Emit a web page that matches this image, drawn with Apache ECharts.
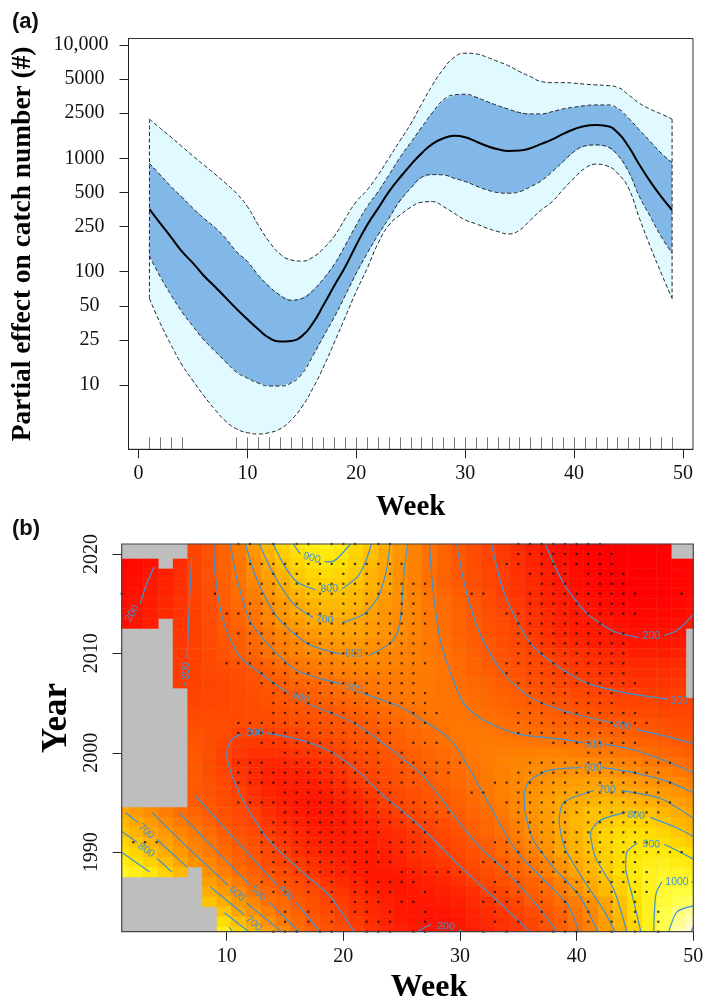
<!DOCTYPE html>
<html>
<head>
<meta charset="utf-8">
<title>Partial effects</title>
<style>
  html, body { margin: 0; padding: 0; background: #fff; }
  #main { width: 703px; height: 1002px; }
</style>
<script src="https://cdn.jsdelivr.net/npm/echarts@6/dist/echarts.min.js"></script>
</head>
<body>
<div id="main"></div>
<script>
// panel (a): partial effect by week
const weeks = [1,2,3,4,5,6,7,8,9,10,11,12,13,14,15,16,17,18,19,20,21,22,23,24,25,26,27,28,29,30,31,32,33,34,35,36,37,38,39,40,41,42,43,44,45,46,47,48,49];
const upperOuter = [2213,1841,1534,1268,1050,874,728,603,491,375,258,184,143,127,124,134,161,207,296,415,526,713,1007,1426,2012,3020,4446,6152,7800,8459,8337,7800,7145,6546,5821,5260,4753,4656,4656,4600,4510,4444,4388,4233,3628,3062,2710,2466,2213];
const upperInner = [903,713,562,453,362,296,246,197,150,123,93,74,62,56,58,68,87,117,172,258,375,508,713,1015,1380,1880,2535,3273,3628,3676,3459,3170,2917,2710,2535,2466,2466,2582,2729,2825,2917,2958,2958,2767,2259,1782,1406,1109,917];
const meanEffect = [357,267,201,150,119,92,74,59,47,38,31,26,24.2,24.5,27,35,51,76,111,172,258,362,508,675,876,1109,1340,1503,1578,1535,1406,1285,1202,1161,1170,1227,1340,1472,1642,1806,1932,1972,1932,1687,1270,876,623,459,350];
const lowerInner = [138,90,62,44,33,25,20,16,13,11.5,10.4,9.8,9.8,10.4,12.5,18,27,40,62,97,145,211,296,420,545,680,718,713,666,624,571,526,499,492,508,562,635,763,935,1146,1286,1312,1270,1072,763,459,306,204,145];
const lowerOuter = [58,35,22.5,15,10.9,8.05,6.1,4.8,4.1,3.8,3.7,3.8,4.1,4.9,6.4,9.3,14.5,24,40,67,107,178,258,315,370,409,415,375,327,286,264,242,226,215,233,286,351,415,533,667,817,887,858,738,545,296,166,97,58];
const rugWeeks = [1,2,3,4,9,10,11,12,13,14,15,16,17,18,19,20,21,22,23,24,25,26,27,28,29,30,31,32,33,34,35,36,37,38,39,40,41,42,43,44,45,46,47,48,49];
const xTicksA = [0,10,20,30,40,50];
const yTicksA = [10,25,50,100,250,500,1000,2500,5000,10000];

// panel (b): heat cells, one row per year from 2021 down to 1982, null = no colour
const n = null;
const cellWeeks = [1,2.26,3.51,4.77,6.03,7.28,8.54,9.79,11.05,12.31,13.56,14.82,16.08,17.33,18.59,19.85,21.1,22.36,23.62,24.87,26.13,27.38,28.64,29.9,31.15,32.41,33.67,34.92,36.18,37.44,38.69,39.95,41.21,42.46,43.72,44.97,46.23,47.49,48.74,50];
const cellYears = [2021,2020,2019,2018,2017,2016,2015,2014,2013,2012,2011,2010,2009,2008,2007,2006,2005,2004,2003,2002,2001,2000,1999,1998,1997,1996,1995,1994,1993,1992,1991,1990,1989,1988,1987,1986,1985,1984,1983,1982];
const heatRows = [
  [n,n,n,n,n,330,375,450,540,650,770,850,910,950,970,940,860,800,720,640,570,500,450,395,350,310,280,255,225,198,180,165,155,150,150,150,150,155,n,n],
  [n,n,n,n,n,320,370,445,525,630,745,830,885,925,935,910,850,785,710,635,565,498,450,397,350,312,285,258,228,203,183,168,158,150,150,150,150,155,n,n],
  [165,175,190,n,255,318,368,440,515,610,715,790,850,890,905,885,835,770,700,625,558,495,445,398,355,318,290,262,235,210,190,172,160,152,150,150,150,155,160,165],
  [170,180,195,225,260,315,370,435,510,590,680,750,815,860,875,860,815,745,690,610,550,490,440,400,360,325,295,265,240,220,200,180,165,155,150,150,150,155,160,165],
  [172,185,205,228,262,312,365,428,495,570,650,720,795,830,845,835,790,745,695,620,555,490,437,398,358,325,298,270,245,222,200,183,170,158,150,150,152,156,162,168],
  [175,190,208,232,265,310,360,425,490,550,625,690,745,790,795,795,770,725,665,620,565,515,465,415,380,340,298,272,248,228,212,190,175,163,155,152,150,152,160,170],
  [178,192,212,238,268,305,350,425,465,525,595,650,710,750,768,770,750,705,645,608,570,520,475,435,395,355,310,285,255,235,215,202,190,175,165,160,158,160,168,180],
  [180,195,218,245,272,305,350,410,455,510,580,640,700,725,740,745,725,680,630,598,570,530,480,440,400,365,330,296,265,245,222,207,197,185,175,170,168,170,178,195],
  [182,198,222,n,275,302,345,398,450,500,565,615,665,698,705,702,690,655,625,600,570,530,485,445,408,375,345,305,275,250,228,212,205,195,183,178,178,180,188,210],
  [n,n,n,n,278,300,340,390,430,475,530,570,610,650,675,685,680,655,625,600,565,525,488,445,415,380,350,325,285,260,235,222,210,205,198,190,188,190,196,n],
  [n,n,n,n,280,302,338,382,415,460,505,545,580,610,635,645,640,620,605,585,555,525,495,455,420,395,360,330,295,270,250,235,222,212,205,200,200,202,208,n],
  [n,n,n,n,283,305,335,375,412,450,503,535,565,590,598,603,607,600,585,562,545,520,503,465,430,405,375,350,325,295,278,265,252,240,232,225,222,222,228,n],
  [n,n,n,n,285,305,328,355,385,415,450,485,518,540,555,570,578,580,575,565,548,530,508,475,440,410,390,360,332,315,292,278,265,255,248,243,242,245,250,n],
  [n,n,n,n,288,305,320,338,355,380,412,445,490,515,530,545,550,555,555,548,535,525,510,480,448,425,395,370,345,325,305,290,280,270,262,258,258,260,268,n],
  [n,n,n,n,290,305,320,335,352,370,390,410,440,460,480,498,510,522,530,533,530,522,510,492,465,440,420,395,365,345,322,305,295,285,278,272,270,275,285,n],
  [n,n,n,n,n,310,320,330,345,358,375,392,412,432,455,475,495,510,520,525,525,518,508,500,478,455,435,415,390,370,350,335,322,312,302,296,292,290,295,n],
  [n,n,n,n,n,320,328,335,345,355,370,382,395,405,425,445,462,478,495,505,518,518,510,505,490,470,450,430,412,395,375,360,345,335,325,318,312,305,303,300],
  [n,n,n,n,n,335,340,340,343,350,358,365,375,385,395,408,428,450,470,490,503,515,515,510,503,490,470,455,440,425,410,395,380,368,355,345,335,328,322,318],
  [n,n,n,n,n,350,350,345,340,340,345,350,358,365,375,388,402,425,448,465,485,498,510,518,510,502,490,475,460,447,435,425,415,405,395,385,372,362,352,345],
  [n,n,n,n,n,365,355,340,310,300,300,310,325,340,355,368,382,397,420,440,460,480,502,520,525,520,503,490,482,475,465,458,452,440,430,418,405,388,375,365],
  [n,n,n,n,n,380,355,320,290,280,278,282,293,305,325,345,365,382,410,430,455,478,495,515,530,535,530,520,512,508,505,502,495,485,472,458,440,420,402,390],
  [n,n,n,n,n,390,360,310,280,265,260,262,270,278,296,310,335,355,385,408,430,455,478,500,520,535,545,552,555,555,550,540,530,525,515,500,485,465,445,425],
  [n,n,n,n,n,400,355,310,265,248,240,240,248,255,268,290,315,345,370,390,415,440,465,490,515,540,560,572,580,588,592,595,590,585,570,550,530,510,490,470],
  [n,n,n,n,n,405,360,320,275,250,228,220,225,235,250,270,295,325,350,375,400,425,450,478,505,535,560,580,595,605,615,625,632,630,620,600,575,555,530,510],
  [n,n,n,n,n,410,370,330,285,250,225,215,215,222,235,252,278,303,335,362,385,405,440,468,495,530,560,585,612,635,650,665,678,680,670,655,630,605,580,550],
  [n,n,n,n,n,405,375,345,302,262,235,215,208,208,218,235,255,280,308,340,368,392,420,450,485,525,555,590,625,650,680,690,705,712,705,695,680,655,630,600],
  [n,n,n,n,n,410,390,355,320,275,245,222,205,200,205,220,240,262,295,325,355,380,405,435,470,510,545,580,635,670,695,725,750,770,765,745,725,700,670,640],
  [710,655,605,545,495,445,405,365,335,295,258,230,212,200,200,210,228,252,275,302,330,360,390,415,455,485,525,580,625,665,700,745,790,795,795,802,790,760,725,695],
  [765,705,650,590,535,485,435,385,350,315,275,245,225,210,205,207,218,235,255,278,300,325,350,385,430,465,505,560,615,660,705,760,785,815,840,850,835,805,760,715],
  [800,745,690,640,580,525,475,415,375,335,290,260,238,222,212,208,212,225,238,258,278,302,330,375,425,455,495,545,605,650,700,750,800,845,875,885,880,850,810,770],
  [850,800,745,680,615,555,505,450,405,365,315,280,250,232,220,210,210,215,228,245,265,285,308,345,395,425,470,525,585,635,695,745,795,850,890,900,900,885,850,820],
  [900,850,790,720,650,575,525,470,425,385,335,295,260,240,225,215,210,210,220,240,265,275,295,330,370,405,465,500,560,615,685,740,790,840,885,905,925,925,905,880],
  [950,895,840,775,700,630,570,510,445,405,350,310,290,262,242,225,212,208,215,228,245,260,278,305,345,385,415,470,515,575,630,715,770,830,880,925,950,960,940,920],
  [995,950,915,850,765,n,605,545,480,430,385,345,305,275,250,230,215,205,205,212,225,238,255,285,325,360,395,450,495,555,620,690,755,815,880,930,970,990,985,965],
  [n,n,n,n,n,n,670,605,535,470,420,380,340,305,275,250,230,212,205,205,215,228,240,262,295,330,365,398,445,495,555,635,715,785,850,920,975,1005,1010,1005],
  [n,n,n,n,n,n,730,660,590,515,470,420,370,335,305,270,245,225,210,205,208,215,225,240,265,298,325,375,420,465,530,605,695,760,830,910,970,1020,1040,1045],
  [n,n,n,n,n,n,800,725,640,585,500,460,410,365,325,290,262,238,220,208,202,205,212,225,248,268,298,330,395,430,485,545,610,690,790,890,970,1030,1065,1085],
  [n,n,n,n,n,n,n,800,695,625,555,480,435,375,345,302,270,245,228,212,202,198,200,212,235,255,275,302,345,390,440,520,580,670,770,880,975,1055,1105,1135],
  [n,n,n,n,n,n,n,880,780,690,610,530,470,410,365,320,285,255,232,215,200,192,192,202,228,245,262,285,325,375,430,500,570,660,755,865,970,1060,1125,1170],
  [n,n,n,n,n,n,n,960,860,760,670,595,505,435,380,340,295,265,240,220,203,190,190,198,218,235,255,280,310,360,425,490,560,650,740,850,960,1070,1150,1210]
];

// observation dots: weeks per year, same order as cellYears
const dotWeeks = [
  [11,12,14,16,17,19,20,21,23,24,35,36,37,38,39,40,41,42],
  [35,36,37,38,39,40,41,42,43],
  [12,13,14,15,16,17,18,19,20,21,22,23,24,25,34,35,37,38,39,40,41,42,43],
  [14,16,18,20,22,24,36,37,38,39,41,42,43,44],
  [13,14,15,16,17,18,19,20,21,22,23,24,25,26,27,37,38,39,41,42,43,44],
  [1,9,13,14,16,17,18,19,20,21,22,23,24,25,26,27,31,32,36,37,38,39,40,41,42,43,44,45,49],
  [12,13,14,15,16,17,18,20,21,22,25,26,36,37,38,39,40,41,42,43,44],
  [10,11,12,13,14,15,16,17,18,19,20,21,22,23,24,25,26,27,34,35,36,37,38,39,40,41,42,43,44,45],
  [12,13,14,15,16,17,18,19,20,21,22,23,24,25,26,27,35,36,37,38,39,40,41,42],
  [11,12,13,14,15,16,17,18,19,20,21,22,23,24,25,26,35,36,37,38,39,40,41,42,43,44],
  [12,13,14,15,16,17,18,19,20,21,22,23,24,25,26,27,35,36,37,38,39,40,41,42,43,44],
  [12,13,14,15,16,17,18,19,20,21,22,23,24,25,26,35,36,37,38,39,40,41,42,43,44],
  [10,11,12,13,14,15,16,17,18,19,20,21,22,23,24,25,26,27,34,35,36,37,38,39,40,41,42,43,44],
  [13,14,15,16,17,18,19,20,21,22,23,24,25,26,34,36,37,38,39,40,41,42,43,44],
  [13,14,15,16,17,18,19,20,21,22,23,24,25,26,35,36,37,38,39,40,41,42,43,44,45],
  [14,15,16,17,18,19,20,21,22,23,24,25,26,27,36,37,38,39,41,42,43],
  [14,15,16,17,18,19,20,21,22,23,24,25,26,27,36,37,38,39,40,41,42,43],
  [14,15,16,17,18,19,20,21,22,23,24,26,27,28,35,36,37,39,40,41,42,43,44,45],
  [11,12,13,14,15,16,17,18,19,20,21,22,23,24,25,26,27,35,36,37,38,39,40,41,42,43,44,45,46],
  [11,12,13,14,15,16,17,18,19,20,21,22,23,24,35,36,37,38,39,40,41,42,43,44],
  [13,14,15,16,17,18,19,20,21,22,23,24,26,27,28,38,39,40,41,42,43,44,45],
  [15,16,17,18,19,20,21,22,23,25,41,42,43],
  [11,12,13,15,16,17,18,19,20,21,22,23,25,26,27,28,29,30,36,37,38,39,40,41,42,43,44,45,46,47,48],
  [11,12,13,14,15,16,17,18,19,20,21,22,23,25,26,27,28,29,35,36,37,38,39,40,41,42,43,44,45,46,47],
  [11,12,13,14,15,16,17,18,19,20,21,22,23,24,25,26,33,34,35,36,37,38,39,41,42,43,44,45,46,47,48],
  [15,16,17,18,19,20,21,22,23,24,31,32,35,36,37,38,39,40,41,42,43,44,45,46,47],
  [11,12,13,14,15,16,17,18,19,20,21,22,23,24,25,26,27,28,34,35,36,37,38,39,40,41,42,43,44,45,46,47,48],
  [15,16,17,18,19,20,21,22,23,24,25,26,27,28,29,35,36,37,38,39,40,41,42,43,44,45,46,47],
  [14,15,16,17,18,19,20,21,22,23,24,25,26,27,28,35,36,37,38,39,41,42,43,44,45,46],
  [13,14,15,16,17,18,19,20,21,22,23,26,27,35,36,37,38,39,40,41,42,43,44,45,46],
  [2,3,4,13,14,15,16,17,18,19,20,21,22,24,25,26,27,33,34,35,36,37,38,39,40,41,42,43,44,45,46],
  [13,14,15,16,17,18,19,20,21,22,23,24,25,26,27,34,35,36,37,38,39,40,41,42,43,44,45,46,47,48,49],
  [14,15,16,17,18,19,20,21,22,23,24,32,33,34,35,36,37,38,39,40,41,42,43,44,45],
  [14,15,16,17,18,19,20,21,22,25,26,27,28,29,30,34,35,36,37,38,39,41,42,43,44,45,46],
  [13,15,16,17,19,21,22,23,24,25,26,33,35,37,39,40,41,42,43,44,45,46],
  [14,15,17,19,21,22,23,24,27,33,34,35,37,39,40,41,43,45,46],
  [19,21,22,23,25,26,32,33,34,35,37,39,41,43,45],
  [15,17,19,21,22,24,27,33,37,39,41,43,45,47],
  [15,17,19,22,23,24,27,33,35,37,39,41,43,45,47],
  [14,15,16,18,19,22,23,24,26,27,32,34,38,39,40,43,45,47]
];

// contour pieces as [week, year], broken where the label sits
const contour200 = [
  [[3.8,2018.7],[3.1,2016.9],[2.6,2015]],
  [[26.3,1982],[27.5,1982.75]],
  [[29.9,1982.2],[30.3,1982]],
  [[37.3,2021],[38.9,2017],[40.9,2014],[43.2,2012.2],[45.3,2011.6]],
  [[47.5,2011.8],[48.6,2012.3],[50,2013.9]]
];
const contour300 = [
  [[7,2019.7],[6.8,2015],[6.6,2009.5]],
  [[6.4,2007.1],[6.4,2006.8]],
  [[11.3,2001.9],[10.4,2001.3],[10,1999.9],[11.1,1995.9],[13.4,1991.5],[16,1988.5],[18.9,1985.5],[20.9,1982]],
  [[13.4,2002],[16.3,2001.3],[18.9,2000.1],[21.2,1998.2],[23.5,1995.6],[24.9,1994.3],[27.2,1991.9],[29.9,1988.7],[33.5,1984.8],[36,1982]],
  [[32.7,2021],[33.8,2016],[35.9,2011.2],[38,2009],[40.9,2007],[44.3,2006],[47.8,2005.4]]
];
const contour400 = [
  [[8.9,2021],[9,2018],[9.7,2013.3],[11.1,2009.7],[12.9,2008],[15.3,2006]],
  [[17,2004.9],[20.9,2003],[22.9,2001.4],[24.9,1999.6],[26.9,1997.6],[30,1992.9],[31.7,1990.5],[33.5,1988.6],[35.2,1986.5],[36.9,1984.2],[38.3,1982]],
  [[7.3,1995.7],[10.8,1991.2],[14.3,1986.7]],
  [[15.9,1985],[18,1982]],
  [[29.7,2021],[30.5,2016.4],[31.7,2012],[33.5,2008.3],[36,2005.6],[39.2,2004.1],[43.2,2003]],
  [[45,2002.4],[48.9,2001.3],[50,2000.9]]
];
const contour500 = [
  [[10.3,2021],[10.9,2017.4],[12,2013.3],[13.7,2010.7],[16,2008.3],[19.9,2006.9]],
  [[21.6,2006],[24.9,2004.6],[26.6,2003.4],[28,2002.4],[29.2,2001.3],[30,2000],[31.9,1996.1],[33.5,1992.7],[34.9,1990],[37.2,1987.2],[39.2,1984.8],[40.2,1982]],
  [[5.9,1994],[8.9,1990.4],[11.9,1986.8]],
  [[13.6,1985],[16.2,1982]],
  [[27.4,2021],[27.6,2017.4],[28.2,2012],[28.9,2009],[30.3,2005],[32,2003.3],[34.9,2001.9],[39.2,2001.3],[40.6,2001]],
  [[42.3,2000.9],[44.9,2000.3],[47.8,1999.1],[50,1998]]
];
const contour600 = [
  [[11.6,2021],[12.6,2017.4],[14.3,2013.7],[16.9,2011],[19.9,2009.9]],
  [[22.2,2009.8],[24,2011],[24.7,2012.3],[25,2014.7],[25.2,2018],[25.5,2021]],
  [[3.6,1994],[6.8,1990.3],[10.1,1986.7]],
  [[11.7,1984.9],[14.7,1982]],
  [[40.4,1998.5],[37.5,1998.2],[35.9,1997.1],[35.5,1995.7],[35.6,1993.9],[36.3,1991.2],[38,1988.5],[40.3,1985.5],[41.8,1982]],
  [[42.2,1998.5],[44.9,1998],[47.8,1997.1],[50,1996]]
];
const contour700 = [
  [[12.8,2021],[14,2018],[15.7,2015],[17.4,2013.6]],
  [[19.9,2013.1],[21.7,2013.9],[23,2015.7],[23.7,2018.4],[24,2021]],
  [[1.3,1994],[2.4,1993]],
  [[4,1991.3],[6.6,1988.5]],
  [[8.6,1986.5],[11.5,1983.7]],
  [[12.9,1982.1],[13,1982]],
  [[41.5,1996.2],[38.9,1995],[38.5,1993.2],[39,1990.4],[40.6,1987.2],[42.3,1984.2],[43.3,1982]],
  [[43.8,1996.2],[47.2,1995.4],[50,1993.4]]
];
const contour800 = [
  [[14,2021],[14.9,2018.9],[16,2017.2],[17.6,2016.4]],
  [[19.9,2016.5],[21.2,2017.7],[21.9,2019.2],[22.4,2021]],
  [[1,1992.1],[2.3,1991]],
  [[4,1989.4],[5.3,1988]],
  [[9.8,1983.9],[11.9,1982]],
  [[44.2,1994],[42,1993.2],[41.2,1991.9],[41.6,1989.5],[43.2,1986.2],[44.3,1982]],
  [[46.3,1993.5],[48.3,1992.6],[50,1991.6]]
];
const contour900 = [
  [[15.7,2021],[16.3,2020]],
  [[18.4,2019.2],[19.2,2019.3],[20.6,2021]],
  [[1,1990],[3.4,1988]],
  [[10.2,1982.5],[10.5,1982]],
  [[45.2,1990.9],[44.3,1990],[44.2,1988.5],[44.8,1985.5],[45.5,1982]],
  [[47.5,1990.8],[48.9,1990],[50,1989.3]]
];
const contour1000 = [
  [[47.3,1987],[46.8,1985.8],[46.6,1982]],
  [[49.8,1987],[50,1987]]
];
const contour1100 = [
  [[50,1984.6],[48.6,1984],[47.9,1982]]
];
const contour1200 = [
  [[49.8,1982],[50,1982.5]]
];
const contourPieces = [].concat(contour200, contour300, contour400, contour500, contour600, contour700, contour800, contour900, contour1000, contour1100, contour1200);

// contour labels: week, year, text, clockwise tilt in degrees
const contourLabels = [
  [17.3,2019.6,'900',15],[18.8,2016.5,'800',-3],[18.4,2013.4,'700',5],[20.9,2009.9,'600',0],
  [20.9,2006.5,'500',15],[16.3,2005.5,'400',20],[12.4,2002,'300',0],[1.9,2014,'200',-60],
  [6.5,2008.2,'300',-90],[3.1,1992.1,'700',40],[3.1,1990.2,'800',35],[10.9,1985.8,'600',40],
  [12.7,1985.9,'500',45],[15.1,1985.9,'400',45],[12.3,1982.8,'700',40],[46.4,2011.7,'200',0],
  [48.8,2005.2,'300',0],[43.9,2002.7,'400',8],[28.8,1982.5,'200',5],[41.4,2000.8,'500',0],
  [41.4,1998.5,'600',0],[42.6,1996.2,'700',0],[45.1,1993.7,'800',5],[46.4,1990.8,'900',3],
  [48.6,1987,'1000',0]
];
const xTicksB = [10,20,30,40,50];
const yTicksB = [1990,2000,2010,2020];

const serif = 'Liberation Serif';
const tickColor = '#222';
const tickLabel = { fontFamily: serif, fontSize: 20, color: '#111' };
const axisTitle = { fontFamily: serif, fontWeight: 'bold', color: '#000' };
const panelTag = { fontFamily: 'Liberation Sans', fontWeight: 'bold', fontSize: 22, color: '#111' };
const heatColors = ['#ff0000', '#ff4000', '#ff6400', '#ff8c00', '#ffb400', '#ffe400', '#ffff40', '#ffffd8'];
const contourColor = '#3f93d2';

// the band between two curves, drawn once from the arrays
function bandRender(upper, lower, color) {
    return function (params, api) {
        if (params.dataIndex !== 0) return;
        const pts = [];
        weeks.forEach((w, i) => pts.push(api.coord([w, upper[i]])));
        for (let i = weeks.length - 1; i >= 0; i--) pts.push(api.coord([weeks[i], lower[i]]));
        return { type: 'polygon', shape: { points: pts }, style: { fill: color } };
    };
}

function dashedLine(data) {
    return {
        type: 'line', xAxisIndex: 0, yAxisIndex: 0, data: data, showSymbol: false, silent: true, z: 4,
        smooth: true, lineStyle: { color: '#222', width: 1, type: [4, 2.5] }
    };
}

function curve(values) {
    return weeks.map((w, i) => [w, values[i]]);
}

const cellData = [];
heatRows.forEach((row, r) => {
    row.forEach((v, c) => {
        if (v !== null) cellData.push([c, cellYears[r], v]);
    });
});

const dotData = [];
dotWeeks.forEach((list, r) => {
    list.forEach(w => dotData.push([w, cellYears[r]]));
});

const panelSeries = [
    { type: 'custom', xAxisIndex: 0, yAxisIndex: 0, data: [[1, upperOuter[0]]], silent: true, z: 2, renderItem: bandRender(upperOuter, lowerOuter, '#e0faff') },
    { type: 'custom', xAxisIndex: 0, yAxisIndex: 0, data: [[1, upperInner[0]]], silent: true, z: 3, renderItem: bandRender(upperInner, lowerInner, '#82b8e8') },
    dashedLine(curve(upperOuter)),
    dashedLine(curve(upperInner)),
    dashedLine(curve(lowerInner)),
    dashedLine(curve(lowerOuter)),
    dashedLine([[1, upperOuter[0]], [1, lowerOuter[0]]]),
    dashedLine([[49, upperOuter[48]], [49, lowerOuter[48]]]),
    {
        type: 'line', xAxisIndex: 0, yAxisIndex: 0, data: curve(meanEffect), showSymbol: false, silent: true, z: 5,
        smooth: true, lineStyle: { color: '#000', width: 2 }
    },
    {
        // heat cells, half a cell wide at the plot edges
        type: 'custom', id: 'heat', xAxisIndex: 1, yAxisIndex: 1, data: cellData, silent: true, z: 2,
        encode: { x: 0, y: 1 },
        renderItem: function (params, api) {
            const c = api.value(0);
            const y = api.value(1);
            const wLeft = c === 0 ? cellWeeks[0] : (cellWeeks[c - 1] + cellWeeks[c]) / 2;
            const wRight = c === 39 ? cellWeeks[39] : (cellWeeks[c] + cellWeeks[c + 1]) / 2;
            const p0 = api.coord([wLeft, Math.min(y + 0.5, 2021)]);
            const p1 = api.coord([wRight, Math.max(y - 0.5, 1982)]);
            const color = api.visual('color');
            return {
                type: 'rect',
                shape: { x: p0[0], y: p0[1], width: p1[0] - p0[0], height: p1[1] - p0[1] },
                style: { fill: color, stroke: color, lineWidth: 0.4 }
            };
        }
    }
];
contourPieces.forEach(piece => {
    panelSeries.push({
        type: 'line', xAxisIndex: 1, yAxisIndex: 1, data: piece, showSymbol: false, silent: true, z: 4,
        smooth: 0.25, lineStyle: { color: contourColor, width: 1.2 }
    });
});
panelSeries.push({
    type: 'scatter', xAxisIndex: 1, yAxisIndex: 1, data: dotData, symbol: 'rect', symbolSize: 2.2, silent: true, z: 5,
    itemStyle: { color: '#111' }
});
panelSeries.push({
    type: 'custom', xAxisIndex: 1, yAxisIndex: 1, data: contourLabels, silent: true, z: 6,
    encode: { x: 0, y: 1 },
    renderItem: function (params, api) {
        const item = contourLabels[params.dataIndex];
        const p = api.coord([item[0], item[1]]);
        return {
            type: 'text', x: p[0], y: p[1], rotation: -item[3] * Math.PI / 180,
            style: { text: item[2], fill: contourColor, fontSize: 10.5, fontFamily: 'Liberation Sans', align: 'center', verticalAlign: 'middle' }
        };
    }
});
// plot frame over the cells
panelSeries.push({
    type: 'custom', xAxisIndex: 1, yAxisIndex: 1, data: [[1, 1982]], silent: true, z: 7,
    renderItem: function (params) {
        const s = params.coordSys;
        return { type: 'rect', shape: { x: s.x, y: s.y, width: s.width, height: s.height }, style: { fill: 'none', stroke: '#444', lineWidth: 1.2 } };
    }
});

// right side padding so the y labels sit like the original ones
function yLabelA(v) {
    if (v === 10000) return '10,000';
    if (v < 100) return v + '\u00a0\u2009';
    return v + '\u2009';
}

const option = {
    animation: false,
    backgroundColor: '#fff',
    title: [
        { text: '(a)', left: 7, top: 6, textStyle: panelTag },
        { text: '(b)', left: 7, top: 513, textStyle: panelTag }
    ],
    grid: [
        { left: 128.5, top: 38.5, width: 564.5, height: 410.8, outerBoundsMode: 'none', show: true, backgroundColor: '#fff', borderColor: '#333', borderWidth: 1 },
        { left: 121.7, top: 544, width: 571.6, height: 387.7, outerBoundsMode: 'none', show: true, backgroundColor: '#bebebe', borderWidth: 0 }
    ],
    // two of the axis titles sit off centre in the original
    graphic: [
        { type: 'text', x: 57, y: 718, rotation: Math.PI / 2, style: Object.assign({ text: 'Year', fontSize: 35, align: 'center', verticalAlign: 'middle', fill: '#000' }, { fontFamily: serif, fontWeight: 'bold' }) },
        { type: 'text', x: 429, y: 988, style: Object.assign({ text: 'Week', fontSize: 32, align: 'center', verticalAlign: 'middle', fill: '#000' }, { fontFamily: serif, fontWeight: 'bold' }) }
    ],
    xAxis: [
        {
            gridIndex: 0, type: 'value', min: -0.92, max: 50.92, splitLine: { show: false },
            axisLine: { show: true, onZero: false, lineStyle: { color: tickColor } },
            axisTick: { show: true, length: 9, customValues: xTicksA, lineStyle: { color: tickColor } },
            axisLabel: Object.assign({ customValues: xTicksA, margin: 14 }, tickLabel),
            name: 'Week', nameLocation: 'middle', nameGap: 44,
            nameTextStyle: Object.assign({ fontSize: 29 }, axisTitle)
        },
        {
            gridIndex: 1, type: 'value', min: 1, max: 50, splitLine: { show: false },
            axisLine: { show: false, onZero: false },
            axisTick: { show: true, length: 9, customValues: xTicksB, lineStyle: { color: tickColor } },
            axisLabel: Object.assign({ customValues: xTicksB, margin: 15 }, tickLabel)
        },
        {
            // rug of observed weeks along the bottom of (a)
            gridIndex: 0, type: 'value', position: 'bottom', min: -0.92, max: 50.92, splitLine: { show: false },
            axisLine: { show: false, onZero: false },
            axisTick: { show: true, inside: true, length: 12, customValues: rugWeeks, lineStyle: { color: '#555', width: 0.8 } },
            axisLabel: { show: false }
        }
    ],
    yAxis: [
        {
            gridIndex: 0, type: 'log', logBase: 10, min: 2.71, max: 11404, splitLine: { show: false },
            axisLine: { show: true, onZero: false, lineStyle: { color: tickColor } },
            axisTick: { show: true, length: 9, customValues: yTicksA, lineStyle: { color: tickColor } },
            axisLabel: Object.assign({ customValues: yTicksA, margin: 20, formatter: yLabelA }, tickLabel),
            name: 'Partial effect on catch number (#)', nameLocation: 'middle', nameGap: 92,
            nameTextStyle: Object.assign({ fontSize: 27.4 }, axisTitle)
        },
        {
            gridIndex: 1, type: 'value', min: 1982, max: 2021, splitLine: { show: false },
            axisLine: { show: false, onZero: false },
            axisTick: { show: true, length: 9, customValues: yTicksB, lineStyle: { color: tickColor } },
            axisLabel: Object.assign({ customValues: yTicksB, margin: 20, rotate: 90, formatter: v => String(v) }, tickLabel)
        }
    ],
    visualMap: {
        show: false, type: 'continuous', seriesId: 'heat', dimension: 2, min: 150, max: 1200,
        inRange: { color: heatColors }
    },
    series: panelSeries
};

const myChart = echarts.init(document.getElementById('main'), null, { renderer: 'canvas' });
myChart.setOption(option);
</script>
</body>
</html>
